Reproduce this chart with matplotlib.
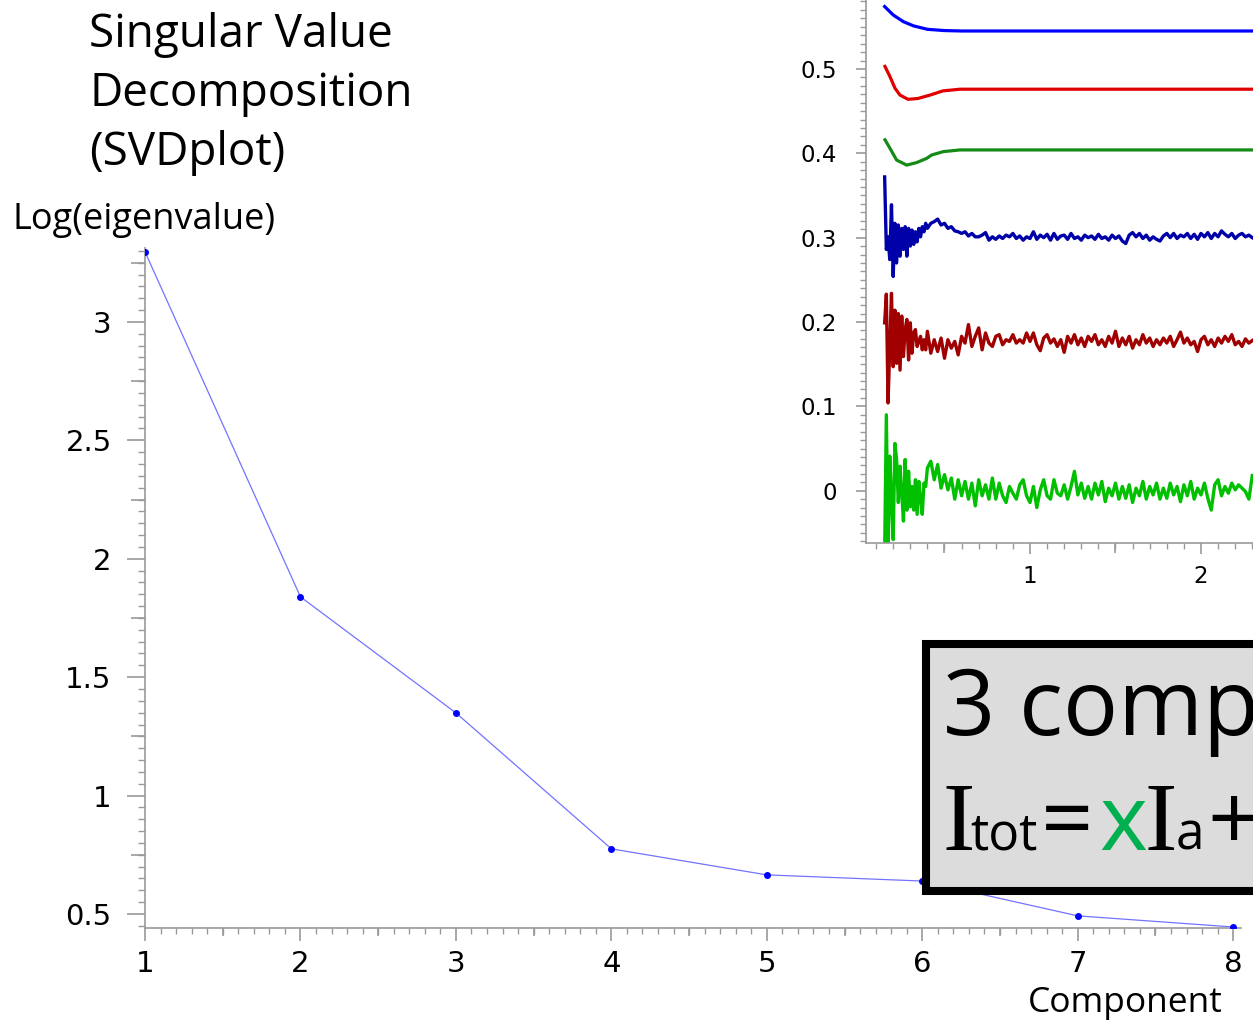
import matplotlib
matplotlib.use("Agg")
import matplotlib.pyplot as plt
from matplotlib.patches import Rectangle
from matplotlib.ticker import MultipleLocator, FixedLocator, FuncFormatter

# figure size in pixels
W, H = 1253, 1021

# scree plot data
components = [1, 2, 3, 4, 5, 6, 7, 8]
log_eig = [3.296, 1.839, 1.349, 0.775, 0.665, 0.639, 0.492, 0.445]

# inset: smooth traces (first three components)
v1_x = [0.15, 0.20, 0.26, 0.32, 0.40, 0.50, 0.60, 1.00, 1.50, 2.00, 2.30]
v1_y = [0.574, 0.564, 0.556, 0.551, 0.547, 0.5455, 0.545, 0.545, 0.545, 0.545, 0.545]
v2_x = [0.152, 0.181, 0.211, 0.240, 0.287, 0.345, 0.415, 0.491, 0.591, 1.00, 1.50, 2.00, 2.30]
v2_y = [0.503, 0.491, 0.477, 0.469, 0.464, 0.465, 0.469, 0.474, 0.476, 0.476, 0.476, 0.476, 0.476]
v3_x = [0.152, 0.181, 0.220, 0.279, 0.337, 0.396, 0.425, 0.493, 0.591, 1.00, 1.50, 2.00, 2.30]
v3_y = [0.416, 0.406, 0.392, 0.386, 0.389, 0.394, 0.398, 0.402, 0.404, 0.404, 0.404, 0.404, 0.404]

# inset: noisy traces (components 4-6)
noise_x = [0.15, 0.16, 0.17, 0.18, 0.19, 0.20, 0.21, 0.22, 0.23, 0.24, 0.25, 0.26, 0.27,
           0.28, 0.29, 0.30, 0.31, 0.32, 0.33, 0.34, 0.35, 0.36, 0.37, 0.38, 0.39, 0.40,
           0.42, 0.44, 0.46, 0.48, 0.50, 0.52, 0.54, 0.56, 0.58, 0.60,
           0.62, 0.64, 0.66, 0.68, 0.70, 0.72, 0.74, 0.76, 0.78, 0.80,
           0.82, 0.84, 0.86, 0.88, 0.90, 0.92, 0.94, 0.96, 0.98, 1.00,
           1.02, 1.04, 1.06, 1.08, 1.10, 1.12, 1.14, 1.16, 1.18, 1.20,
           1.22, 1.24, 1.26, 1.28, 1.30, 1.32, 1.34, 1.36, 1.38, 1.40,
           1.42, 1.44, 1.46, 1.48, 1.50, 1.52, 1.54, 1.56, 1.58, 1.60,
           1.62, 1.64, 1.66, 1.68, 1.70, 1.72, 1.74, 1.76, 1.78, 1.80,
           1.82, 1.84, 1.86, 1.88, 1.90, 1.92, 1.94, 1.96, 1.98, 2.00,
           2.02, 2.04, 2.06, 2.08, 2.10, 2.12, 2.14, 2.16, 2.18, 2.20,
           2.22, 2.24, 2.26, 2.28, 2.30]
v4_y = [0.372, 0.286, 0.301, 0.274, 0.339, 0.254, 0.317, 0.270, 0.315, 0.278, 0.311, 0.286, 0.313,
        0.278, 0.311, 0.290, 0.309, 0.292, 0.307, 0.295, 0.311, 0.301, 0.313, 0.307, 0.317, 0.311,
        0.317, 0.319, 0.322, 0.315, 0.317, 0.311, 0.313, 0.308, 0.307, 0.305,
        0.307, 0.302, 0.305, 0.301, 0.301, 0.303, 0.306, 0.297, 0.301, 0.298,
        0.302, 0.299, 0.303, 0.301, 0.305, 0.299, 0.302, 0.297, 0.301, 0.299,
        0.307, 0.298, 0.303, 0.300, 0.304, 0.297, 0.305, 0.298, 0.302, 0.303,
        0.298, 0.305, 0.299, 0.301, 0.297, 0.303, 0.300, 0.302, 0.298, 0.304,
        0.299, 0.301, 0.297, 0.303, 0.299, 0.302, 0.296, 0.293, 0.303, 0.306,
        0.301, 0.305, 0.299, 0.303, 0.297, 0.301, 0.298, 0.296, 0.302, 0.305,
        0.300, 0.305, 0.299, 0.303, 0.301, 0.305, 0.299, 0.304, 0.298, 0.305,
        0.301, 0.306, 0.299, 0.305, 0.301, 0.308, 0.304, 0.301, 0.305, 0.299,
        0.303, 0.305, 0.301, 0.303, 0.300]
v5_y = [0.199, 0.233, 0.104, 0.171, 0.234, 0.147, 0.214, 0.151, 0.210, 0.143, 0.207, 0.159, 0.191,
        0.203, 0.155, 0.199, 0.163, 0.187, 0.191, 0.171, 0.177, 0.183, 0.167, 0.179, 0.167, 0.189,
        0.163, 0.179, 0.165, 0.181, 0.157, 0.179, 0.169, 0.177, 0.161, 0.183,
        0.175, 0.197, 0.171, 0.183, 0.193, 0.167, 0.187, 0.175, 0.171, 0.183,
        0.185, 0.173, 0.179, 0.177, 0.185, 0.175, 0.179, 0.175, 0.187, 0.177,
        0.187, 0.173, 0.166, 0.181, 0.185, 0.175, 0.180, 0.171, 0.179, 0.164,
        0.183, 0.175, 0.185, 0.173, 0.181, 0.171, 0.183, 0.177, 0.185, 0.173,
        0.179, 0.171, 0.183, 0.175, 0.189, 0.171, 0.181, 0.173, 0.183, 0.169,
        0.179, 0.173, 0.185, 0.175, 0.181, 0.171, 0.179, 0.173, 0.181, 0.175,
        0.183, 0.171, 0.179, 0.188, 0.175, 0.181, 0.173, 0.177, 0.165, 0.179,
        0.183, 0.173, 0.179, 0.171, 0.181, 0.175, 0.183, 0.177, 0.185, 0.173,
        0.177, 0.171, 0.180, 0.175, 0.178]
v6_y = [-0.075, 0.090, -0.075, 0.041, -0.010, -0.058, 0.056, 0.037, -0.014, 0.029, -0.003, -0.036, 0.037,
        -0.023, 0.023, -0.019, 0.005, -0.023, 0.013, -0.028, 0.011, -0.010, -0.028, 0.009, 0.005, 0.027,
        0.035, 0.013, 0.031, 0.003, 0.019, 0.001, 0.015, -0.010, 0.013, -0.006,
        0.011, -0.010, 0.009, -0.018, 0.013, -0.006, 0.007, -0.010, 0.015, -0.010,
        0.009, -0.006, -0.014, 0.005, -0.003, -0.010, 0.007, 0.013, -0.006, -0.014,
        0.005, -0.020, 0.001, 0.013, -0.006, -0.010, 0.013, -0.003, -0.006, 0.007,
        -0.010, 0.005, 0.023, -0.005, 0.009, -0.009, 0.005, -0.010, 0.009, -0.005,
        0.011, -0.013, 0.003, -0.006, 0.009, -0.010, 0.005, -0.009, 0.007, -0.014,
        0.003, -0.006, 0.011, -0.010, 0.005, -0.005, 0.009, -0.010, 0.003, -0.009,
        0.009, -0.005, 0.005, -0.013, 0.007, -0.006, 0.011, -0.010, 0.003, -0.005,
        0.009, -0.009, -0.023, 0.007, 0.013, -0.006, 0.005, -0.003, 0.009, 0.001,
        0.007, 0.003, -0.001, -0.010, 0.018]

title_lines = ["Singular Value", "Decomposition", "(SVDplot)"]
ylabel_text = "Log(eigenvalue)"
xlabel_text = "Component"

sans = ["Open Sans", "DejaVu Sans"]
serif = ["Liberation Serif", "DejaVu Serif"]
gray = "#9a9a9a"


def fx(px):
    return px / W


def fy(py):
    return 1 - py / H


fig = plt.figure(figsize=(W / 100, H / 100), dpi=100)

# ---- main scree plot ----
ax = fig.add_axes([fx(145), fy(927.7), (1241 - 145) / W, (927.7 - 248.5) / H])
ax.plot(components, log_eig, color="#7373ff", lw=0.9, zorder=2)
ax.plot(components, log_eig, "o", color="#0000ff", ms=4, zorder=3)
ax.set_xlim(1, 8.05)
ax.set_ylim(0.442, 3.31)
for s in ["top", "right"]:
    ax.spines[s].set_visible(False)
for s in ["left", "bottom"]:
    ax.spines[s].set_color(gray)
    ax.spines[s].set_linewidth(1.2)
ax.xaxis.set_major_locator(MultipleLocator(1))
ax.xaxis.set_minor_locator(MultipleLocator(0.1))
ax.yaxis.set_major_locator(MultipleLocator(0.5))
ax.yaxis.set_minor_locator(MultipleLocator(0.05))
ax.yaxis.set_major_formatter(FuncFormatter(lambda v, p: f"{v:g}"))
ax.tick_params(axis="y", which="major", length=13, width=1.2, color=gray, labelsize=21, pad=11)
ax.tick_params(axis="y", which="minor", length=5, width=1.0, color=gray)
ax.tick_params(axis="x", which="major", length=9, width=1.2, color=gray, labelsize=21, pad=7)
ax.tick_params(axis="x", which="minor", length=4.5, width=1.0, color=gray)
# medium ticks
sy = ax.secondary_yaxis("left")
sy.yaxis.set_major_locator(FixedLocator([0.75, 1.25, 1.75, 2.25, 2.75, 3.25]))
sy.tick_params(length=10, width=1.2, color=gray, labelleft=False)
sy.spines["left"].set_visible(False)
sx = ax.secondary_xaxis("bottom")
sx.xaxis.set_major_locator(FixedLocator([1.5, 2.5, 3.5, 4.5, 5.5, 6.5, 7.5]))
sx.tick_params(length=6, width=1.2, color=gray, labelbottom=False)
sx.spines["bottom"].set_visible(False)

# ---- inset with the singular vectors ----
axi = fig.add_axes([fx(866), fy(543), (1303.6 - 866) / W, (543 + 0.3) / H])
axi.set_facecolor("none")
axi.plot(v1_x, v1_y, color="#0000ff", lw=2.3)
axi.plot(v2_x, v2_y, color="#e00000", lw=2.3)
axi.plot(v3_x, v3_y, color="#168a16", lw=2.3)
axi.plot(noise_x, v4_y, color="#0000a8", lw=2.4)
axi.plot(noise_x, v5_y, color="#a00000", lw=2.4)
axi.plot(noise_x, v6_y, color="#00c000", lw=2.4)
axi.set_xlim(0.041, 2.6)
axi.set_ylim(-0.062, 0.5821)
for s in ["top", "right"]:
    axi.spines[s].set_visible(False)
for s in ["left", "bottom"]:
    axi.spines[s].set_color(gray)
    axi.spines[s].set_linewidth(1.2)
axi.xaxis.set_major_locator(MultipleLocator(1))
axi.xaxis.set_minor_locator(MultipleLocator(0.1))
axi.yaxis.set_major_locator(MultipleLocator(0.1))
axi.yaxis.set_minor_locator(MultipleLocator(0.01))
axi.yaxis.set_major_formatter(FuncFormatter(lambda v, p: "0" if abs(v) < 1e-9 else f"{v:.1f}"))
axi.xaxis.set_major_formatter(FuncFormatter(lambda v, p: f"{v:.0f}"))
axi.tick_params(axis="y", which="major", length=7, width=1.2, color=gray, labelsize=16.5, pad=14)
axi.tick_params(axis="y", which="minor", length=4, width=1.0, color=gray)
axi.tick_params(axis="x", which="major", length=8, width=1.2, color=gray, labelsize=16.5, pad=8)
axi.tick_params(axis="x", which="minor", length=4, width=1.0, color=gray)
six = axi.secondary_xaxis("bottom")
six.xaxis.set_major_locator(FixedLocator([0.5, 1.5, 2.5]))
six.tick_params(length=7, width=1.2, color=gray, labelbottom=False)
six.spines["bottom"].set_visible(False)

# ---- texts ----
for i, line in enumerate(title_lines):
    fig.text(fx(89), fy(47 + 59 * i), line, family=sans, fontsize=33, va="baseline", ha="left")
fig.text(fx(13), fy(229), ylabel_text, family=sans, fontsize=26, va="baseline", ha="left")
fig.text(fx(1028), fy(1012), xlabel_text, family=sans, fontsize=25.5, va="baseline", ha="left")

# ---- annotation box ----
box = Rectangle((fx(926), fy(891)), fx(1400) - fx(926), fy(644) - fy(891),
                transform=fig.transFigure, facecolor="#dcdcdc", edgecolor="black",
                lw=5.8, zorder=5)
fig.patches.append(box)
fig.text(fx(943), fy(735), "3 components", family=sans, fontsize=66, va="baseline", ha="left", zorder=6)
eq = [(942, "I", serif, 70, "black"),
      (970, "tot", sans, 37, "black"),
      (1041, "=", sans, 66, "black"),
      (1099, "x", sans, 66, "#00b050"),
      (1145, "I", serif, 70, "black"),
      (1176, "a", sans, 37, "black"),
      (1207, "+", sans, 66, "black")]
for px, s, fam, size, col in eq:
    fig.text(fx(px), fy(850), s, family=fam, fontsize=size, color=col, va="baseline", ha="left", zorder=6)

fig.savefig("out.png", dpi=100)
